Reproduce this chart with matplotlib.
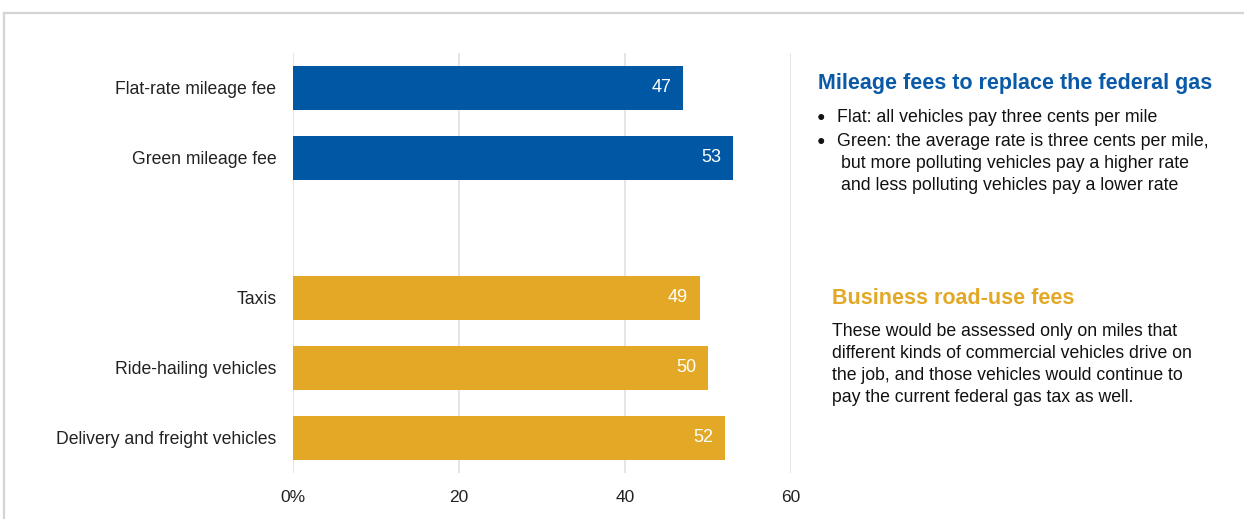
import matplotlib
matplotlib.use("Agg")
import matplotlib.pyplot as plt
from matplotlib.lines import Line2D

plt.rcParams['font.family'] = ['Liberation Sans', 'DejaVu Sans']

categories = ["Flat-rate mileage fee", "Green mileage fee", "Taxis",
              "Ride-hailing vehicles", "Delivery and freight vehicles"]
values = [47, 53, 49, 50, 52]
positions = [0, 1, 3, 4, 5]
groups = ["mileage", "mileage", "business", "business", "business"]
tick_values = [0, 20, 40, 60]
tick_labels = ["0%", "20", "40", "60"]

BLUE = "#0057a4"
GOLD = "#e3a926"
colors = {"mileage": BLUE, "business": GOLD}

fig = plt.figure(figsize=(12.44, 5.19), dpi=100)
ax = fig.add_axes([293/1244, 1 - 473/519, (791 - 293)/1244, 420/519])

ax.barh(positions, values, height=0.63,
        color=[colors[g] for g in groups], zorder=3)
for p, v in zip(positions, values):
    ax.text(v - 1.4, p, f"{v}", color="white", fontsize=13,
            ha="right", va="center", zorder=4)

ax.set_xlim(0, 60)
ax.set_ylim(5.5, -0.5)
ax.set_yticks(positions)
ax.set_yticklabels(categories, fontsize=12.7, color="#222222")
ax.set_xticks(tick_values)
ax.set_xticklabels(tick_labels, fontsize=12.5, color="#222222")
ax.tick_params(axis="both", length=0)
ax.tick_params(axis="y", pad=12)
ax.tick_params(axis="x", pad=12)
for s in ax.spines.values():
    s.set_visible(False)
ax.grid(axis="x", color="#e0e0e0", linewidth=1.2, zorder=0)
ax.set_axisbelow(True)

# outer frame lines (top and left)
fig.add_artist(Line2D([4/1244, 1], [1 - 13/519, 1 - 13/519],
                      transform=fig.transFigure, color="#d4d4d4", linewidth=1.6))
fig.add_artist(Line2D([4/1244, 4/1244], [0, 1 - 13/519],
                      transform=fig.transFigure, color="#d4d4d4", linewidth=1.6))

# side notes
def fx(px):
    return px / 1244

def fy(py):
    return 1 - py / 519

fig.text(fx(818), fy(83), "Mileage fees to replace the federal gas",
         color="#0a5aa8", fontsize=15.5, fontweight="bold", va="center")
fig.text(fx(817), fy(117), "●", color="#111111", fontsize=10, va="center")
fig.text(fx(837), fy(118), "Flat: all vehicles pay three cents per mile",
         color="#111111", fontsize=12.8, va="center")
fig.text(fx(817), fy(141), "●", color="#111111", fontsize=10, va="center")
fig.text(fx(837), fy(142), "Green: the average rate is three cents per mile,",
         color="#111111", fontsize=12.8, va="center")
fig.text(fx(841), fy(164), "but more polluting vehicles pay a higher rate",
         color="#111111", fontsize=12.8, va="center")
fig.text(fx(841), fy(186), "and less polluting vehicles pay a lower rate",
         color="#111111", fontsize=12.8, va="center")

fig.text(fx(832), fy(299), "Business road-use fees",
         color=GOLD, fontsize=15.5, fontweight="bold", va="center")
business_note = ["These would be assessed only on miles that",
                 "different kinds of commercial vehicles drive on",
                 "the job, and those vehicles would continue to",
                 "pay the current federal gas tax as well."]
for i, line in enumerate(business_note):
    fig.text(fx(832), fy(331 + i * 22), line, color="#111111",
             fontsize=12.7, va="center")

fig.savefig("out.png", dpi=100, facecolor="white")
